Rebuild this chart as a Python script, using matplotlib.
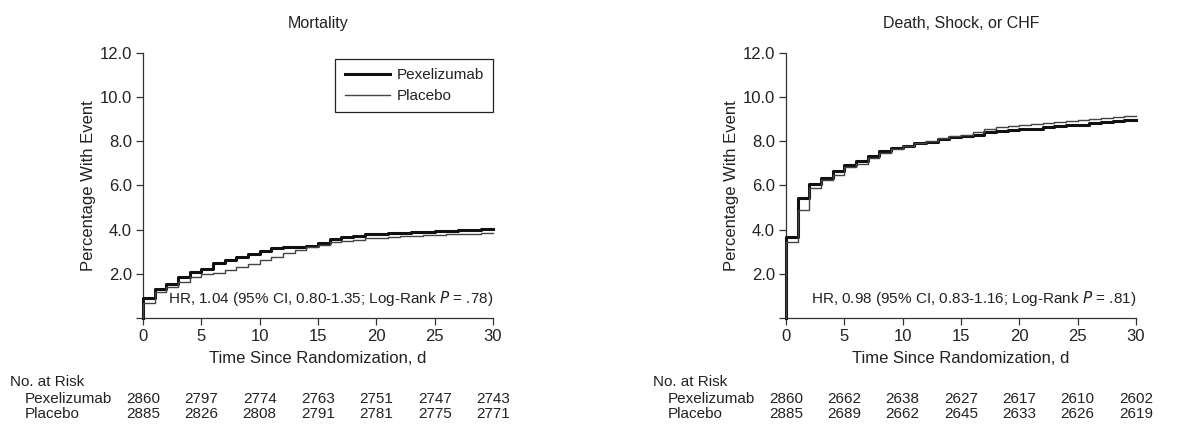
import matplotlib
matplotlib.use('Agg')
import matplotlib.pyplot as plt

plt.rcParams['font.family'] = ['Liberation Sans', 'DejaVu Sans']
plt.rcParams['font.size'] = 11

# --- data (cumulative % with event, one level per day interval) ---
days = list(range(31))
risk_days = [0, 5, 10, 15, 20, 25, 30]

mort_pex = [0.92, 1.30, 1.52, 1.87, 2.10, 2.23, 2.47, 2.62, 2.77, 2.90,
            3.03, 3.15, 3.19, 3.22, 3.27, 3.37, 3.56, 3.68, 3.73, 3.78,
            3.81, 3.83, 3.86, 3.88, 3.90, 3.92, 3.94, 3.96, 3.98, 4.01]
mort_pla = [0.66, 1.19, 1.42, 1.64, 1.87, 1.97, 2.05, 2.17, 2.32, 2.43,
            2.62, 2.77, 2.93, 3.08, 3.19, 3.30, 3.42, 3.50, 3.55, 3.60,
            3.63, 3.66, 3.69, 3.72, 3.74, 3.76, 3.78, 3.80, 3.82, 3.85]

dsc_pex = [3.68, 5.41, 6.05, 6.32, 6.67, 6.92, 7.12, 7.34, 7.56, 7.68,
           7.78, 7.90, 7.98, 8.08, 8.17, 8.25, 8.30, 8.40, 8.45, 8.50,
           8.53, 8.57, 8.62, 8.67, 8.72, 8.75, 8.80, 8.85, 8.90, 8.95]
dsc_pla = [3.45, 4.89, 5.87, 6.24, 6.47, 6.82, 6.95, 7.23, 7.48, 7.63,
           7.78, 7.90, 8.00, 8.15, 8.24, 8.30, 8.42, 8.55, 8.62, 8.70,
           8.73, 8.78, 8.83, 8.88, 8.92, 8.96, 9.00, 9.04, 9.08, 9.13]

mort_risk_pex = [2860, 2797, 2774, 2763, 2751, 2747, 2743]
mort_risk_pla = [2885, 2826, 2808, 2791, 2781, 2775, 2771]
dsc_risk_pex = [2860, 2662, 2638, 2627, 2617, 2610, 2602]
dsc_risk_pla = [2885, 2689, 2662, 2645, 2633, 2626, 2619]

titles = ['Mortality', 'Death, Shock, or CHF']
hr_text = ['HR, 1.04 (95% CI, 0.80-1.35; Log-Rank $\\it{P}$ = .78)',
           'HR, 0.98 (95% CI, 0.83-1.16; Log-Rank $\\it{P}$ = .81)']

txt = '#222222'
W, H = 1183, 426
fig = plt.figure(figsize=(W / 100, H / 100), dpi=100)

panels = [
    (143, mort_pex, mort_pla, mort_risk_pex, mort_risk_pla),
    (786, dsc_pex, dsc_pla, dsc_risk_pex, dsc_risk_pla),
]

for i, (x0, pex, pla, rpex, rpla) in enumerate(panels):
    ax = fig.add_axes([x0 / W, (H - 318) / H, 350 / W, 265.3 / H])
    xs = [0] + days
    ax.plot(xs, [0] + pex + [pex[-1]], drawstyle='steps-post',
            color='#111111', lw=2.2, label='Pexelizumab', clip_on=False, zorder=3)
    ax.plot(xs, [0] + pla + [pla[-1]], drawstyle='steps-post',
            color='#444444', lw=1.0, label='Placebo', clip_on=False, zorder=4)

    ax.set_xlim(0, 30)
    ax.set_ylim(0, 12)
    ax.set_xticks(risk_days)
    ax.set_yticks([0, 2, 4, 6, 8, 10, 12])
    ax.set_yticklabels(['', '2.0', '4.0', '6.0', '8.0', '10.0', '12.0'])
    for s in ['top', 'right']:
        ax.spines[s].set_visible(False)
    for s in ['left', 'bottom']:
        ax.spines[s].set_color('#333333')
        ax.spines[s].set_linewidth(0.9)
    ax.tick_params(colors='#333333', labelcolor=txt, length=5, width=0.9,
                   labelsize=12, pad=3)

    ax.set_xlabel('Time Since Randomization, d', color=txt, fontsize=12, labelpad=5)
    ax.set_ylabel('Percentage With Event', color=txt, fontsize=12, labelpad=2.5)
    ax.set_title(titles[i], color=txt, fontsize=11.5, pad=18)

    ax.text(30, 0.9, hr_text[i], ha='right', va='center', color=txt, fontsize=11)

    # number at risk table
    trans = ax.get_xaxis_transform()
    ax.text(-133 / 350 * 30, -0.24, 'No. at Risk', transform=trans,
            ha='left', va='center', color=txt, fontsize=11)
    ax.text(-118 / 350 * 30, -0.305, 'Pexelizumab', transform=trans,
            ha='left', va='center', color=txt, fontsize=11)
    ax.text(-118 / 350 * 30, -0.36, 'Placebo', transform=trans,
            ha='left', va='center', color=txt, fontsize=11)
    for d, a, b in zip(risk_days, rpex, rpla):
        ax.text(d, -0.305, str(a), transform=trans, ha='center', va='center',
                color=txt, fontsize=11)
        ax.text(d, -0.36, str(b), transform=trans, ha='center', va='center',
                color=txt, fontsize=11)

    if i == 0:
        leg = ax.legend(loc='upper right', bbox_to_anchor=(1.0, 0.976),
                        fancybox=False, framealpha=1, edgecolor='#222222',
                        borderaxespad=0, handlelength=3.0, fontsize=11,
                        labelspacing=0.45, borderpad=0.6, handletextpad=0.4)
        leg.get_frame().set_linewidth(0.9)
        for t in leg.get_texts():
            t.set_color(txt)

fig.savefig('out.png', dpi=100)
